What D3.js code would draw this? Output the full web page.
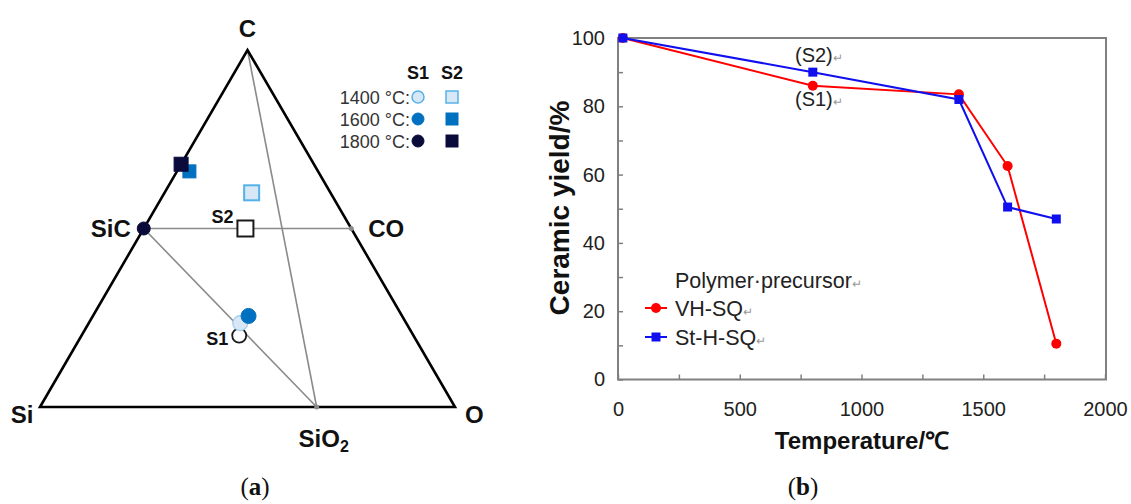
<!DOCTYPE html>
<meta charset="utf-8">
<html>
<head>
    <title>Ternary diagram and ceramic yield</title>
    <style>
        body { margin: 0; background: #fff; }
        svg { display: block; font-family: "Liberation Sans", Arial, sans-serif; }
    </style>
</head>
<body>
    <div id="container"></div>
    <script src="https://d3js.org/d3.v7.min.js"></script>
    <script>
        // ---------- panel (a): ternary Si-C-O, fractions [si, c, o] ----------
        const corners = [
            { name: "Si", comp: [1, 0, 0] },
            { name: "C", comp: [0, 1, 0] },
            { name: "O", comp: [0, 0, 1] }
        ];
        const phases = [
            { name: "SiC", comp: [0.5, 0.5, 0] },
            { name: "CO", comp: [0, 0.5, 0.5] },
            { name: "SiO2", comp: [1 / 3, 0, 2 / 3] }
        ];
        const tieLines = [["C", "SiO2"], ["SiC", "CO"], ["SiC", "SiO2"]];
        const legendTemps = ["1400 °C:", "1600 °C:", "1800 °C:"];
        // precursor compositions (open) then 1400, 1600, 1800 °C
        const s1Comp = [0.42, 0.20, 0.38];
        const s2Comp = [0.255, 0.50, 0.245];
        const s1Heated = [[0.40, 0.235, 0.365], [0.37, 0.255, 0.375], [0.50, 0.50, 0.0]];
        const s2Heated = [[0.19, 0.60, 0.21], [0.31, 0.66, 0.03], [0.32, 0.68, 0.0]];
        const tempFill = ["#d7e7f5", "#0070c0", "#0b0b3b"];
        const tempStroke = ["#55b2e8", "#0070c0", "#0b0b3b"];

        // ---------- panel (b): ceramic yield ----------
        const temps = [20, 800, 1400, 1600, 1800];
        const yieldVH = [100, 86, 83.5, 62.5, 10.5];
        const yieldSt = [100, 90, 82, 50.5, 47];
        const xTicks = [0, 500, 1000, 1500, 2000];
        const xMinor = [250, 750, 1250, 1750];
        const yTicks = [0, 20, 40, 60, 80, 100];
        const yMinor = [10, 30, 50, 70, 90];

        const W = 1131, H = 504;
        const svg = d3.select("#container").append("svg")
            .attr("width", W).attr("height", H);

        // ===== (a) =====
        const tx = d3.scaleLinear().domain([0, 1]).range([40, 455]);   // o + c/2
        const ty = d3.scaleLinear().domain([0, 1]).range([407, 50]);   // c
        const px = c => tx(c[2] + c[1] / 2);
        const py = c => ty(c[1]);
        const byName = {};
        corners.concat(phases).forEach(d => byName[d.name] = d.comp);

        const ga = svg.append("g");
        ga.append("g").selectAll("line").data(tieLines).join("line")
            .attr("x1", d => px(byName[d[0]])).attr("y1", d => py(byName[d[0]]))
            .attr("x2", d => px(byName[d[1]])).attr("y2", d => py(byName[d[1]]))
            .attr("stroke", "#8a8a8a").attr("stroke-width", 1.6);

        ga.append("path")
            .attr("d", d3.line().x(d => px(d.comp)).y(d => py(d.comp))(corners) + "Z")
            .attr("fill", "none").attr("stroke", "#000").attr("stroke-width", 2.6)
            .attr("stroke-linejoin", "miter");

        // small gray dots at phase points
        ga.append("g").selectAll("circle").data(phases.slice(1)).join("circle")
            .attr("cx", d => px(d.comp)).attr("cy", d => py(d.comp)).attr("r", 2.5)
            .attr("fill", "#8a8a8a");

        // corner / phase labels
        function label(g, text, x, y, anchor, size) {
            const t = g.append("text").attr("x", x).attr("y", y)
                .attr("text-anchor", anchor).attr("font-weight", "bold")
                .attr("font-size", (size || 24) + "px").attr("fill", "#111").text(text);
            return t;
        }
        label(ga, "C", px(byName.C), py(byName.C) - 13, "middle");
        label(ga, "Si", px(byName.Si) - 18, py(byName.Si) + 16, "middle");
        label(ga, "O", px(byName.O) + 10, py(byName.O) + 16, "start");
        label(ga, "SiC", px(byName.SiC) - 13, py(byName.SiC) + 8, "end");
        label(ga, "CO", px(byName.CO) + 17, py(byName.CO) + 8, "start");
        const sio2 = label(ga, "SiO", px(byName.SiO2) + 7, py(byName.SiO2) + 40, "middle");
        sio2.append("tspan").attr("font-size", "16px").attr("dy", 5).text("2");

        // markers
        const sq = (g, c, s, fill, stroke, sw) => g.append("rect")
            .attr("x", px(c) - s / 2).attr("y", py(c) - s / 2)
            .attr("width", s).attr("height", s)
            .attr("fill", fill).attr("stroke", stroke).attr("stroke-width", sw);
        const ci = (g, c, r, fill, stroke, sw) => g.append("circle")
            .attr("cx", px(c)).attr("cy", py(c)).attr("r", r)
            .attr("fill", fill).attr("stroke", stroke).attr("stroke-width", sw);

        const gm = ga.append("g");
        sq(gm, s2Heated[1], 13, tempFill[1], tempStroke[1], 1);
        sq(gm, s2Heated[2], 14, tempFill[2], tempStroke[2], 1);
        sq(gm, s2Heated[0], 15, tempFill[0], tempStroke[0], 2);
        sq(gm, s2Comp, 16, "#fff", "#1a1a1a", 2);
        ci(gm, s1Comp, 7, "#fff", "#1a1a1a", 1.8);
        ci(gm, s1Heated[0], 7.5, tempFill[0], "#9ccbec", 1.2);
        ci(gm, s1Heated[1], 7.5, tempFill[1], tempStroke[1], 1);
        ci(gm, s1Heated[2], 6.5, tempFill[2], tempStroke[2], 1);

        label(ga, "S2", px(s2Comp) - 12, py(s2Comp) - 6, "end", 18);
        label(ga, "S1", px(s1Comp) - 11, py(s1Comp) + 9, "end", 18);

        // legend (a)
        const lg = ga.append("g");
        label(lg, "S1", 418, 79, "middle", 18);
        label(lg, "S2", 452, 79, "middle", 18);
        legendTemps.forEach((t, i) => {
            const y = 97 + i * 22;
            lg.append("text").attr("x", 410).attr("y", y + 6.5).attr("text-anchor", "end")
                .attr("font-size", "18px").attr("fill", "#333").text(t);
            lg.append("circle").attr("cx", 418).attr("cy", y).attr("r", 6)
                .attr("fill", tempFill[i]).attr("stroke", tempStroke[i]).attr("stroke-width", i === 0 ? 1.5 : 1);
            lg.append("rect").attr("x", 446).attr("y", y - 6).attr("width", 12).attr("height", 12)
                .attr("fill", tempFill[i]).attr("stroke", tempStroke[i]).attr("stroke-width", i === 0 ? 1.5 : 1);
        });

        // ===== (b) =====
        const x = d3.scaleLinear().domain([0, 2000]).range([618, 1105]);
        const y = d3.scaleLinear().domain([0, 100]).range([379.5, 38]);
        const gb = svg.append("g");
        const axisColor = "#808080";

        gb.append("rect").attr("x", 618).attr("y", 38)
            .attr("width", 1106 - 618).attr("height", 379.5 - 38)
            .attr("fill", "none").attr("stroke", axisColor).attr("stroke-width", 2);

        const yAxis = d3.axisLeft(y).tickValues(yTicks.concat(yMinor)).tickSize(-5)
            .tickFormat(d => yTicks.includes(d) ? d : "");
        const ya = gb.append("g").attr("transform", "translate(618,0)").call(yAxis);
        const xAxis = d3.axisBottom(x).tickValues(xTicks.concat(xMinor)).tickSize(-5)
            .tickFormat(d => xTicks.includes(d) ? d : "");
        const xa = gb.append("g").attr("transform", "translate(0,379.5)").call(xAxis);
        [ya, xa].forEach(a => {
            a.select(".domain").remove();
            a.selectAll(".tick line").attr("stroke", axisColor).attr("stroke-width", 1.5);
            a.selectAll(".tick text").attr("font-size", "20px").attr("fill", "#222")
                .attr("font-family", "'Liberation Sans', Arial, sans-serif");
        });
        ya.selectAll(".tick text").attr("x", -13);
        xa.selectAll(".tick text").attr("y", 22);

        gb.append("text").attr("x", 862).attr("y", 449).attr("text-anchor", "middle")
            .attr("font-weight", "bold").attr("font-size", "24px").attr("fill", "#111")
            .text("Temperature/℃");
        gb.append("text").attr("transform", "translate(569,208) rotate(-90)")
            .attr("text-anchor", "middle").attr("font-weight", "bold")
            .attr("font-size", "28px").attr("fill", "#111").text("Ceramic yield/%");

        const series = [
            { name: "VH-SQ", vals: yieldVH, color: "#ff0000", shape: "circle" },
            { name: "St-H-SQ", vals: yieldSt, color: "#1010ee", shape: "square" }
        ];
        const line = d3.line().x(d => x(d[0])).y(d => y(d[1]));
        function marker(g, shape, cx, cy, color) {
            if (shape === "circle") {
                g.append("circle").attr("cx", cx).attr("cy", cy).attr("r", 5).attr("fill", color);
            } else {
                g.append("rect").attr("x", cx - 4.5).attr("y", cy - 4.5)
                    .attr("width", 9).attr("height", 9).attr("fill", color);
            }
        }
        series.forEach(s => {
            const pts = temps.map((t, i) => [t, s.vals[i]]);
            gb.append("path").attr("d", line(pts)).attr("fill", "none")
                .attr("stroke", s.color).attr("stroke-width", 2);
            pts.forEach(p => marker(gb, s.shape, x(p[0]), y(p[1]), s.color));
        });

        const ret = "↵";
        function retText(g, xx, yy, txt, size) {
            const t = g.append("text").attr("x", xx).attr("y", yy)
                .attr("font-size", size + "px").attr("fill", "#222").text(txt);
            t.append("tspan").attr("font-size", "12px").attr("fill", "#999").text(ret);
            return t;
        }
        retText(gb, 795, 62, "(S2)", 20);
        retText(gb, 795, 106, "(S1)", 20);

        // legend (b)
        retText(gb, 675, 288, "Polymer·precursor", 21.5);
        series.forEach((s, i) => {
            const yy = 308 + i * 29;
            gb.append("line").attr("x1", 645).attr("x2", 667).attr("y1", yy).attr("y2", yy)
                .attr("stroke", s.color).attr("stroke-width", 2);
            marker(gb, s.shape, 656, yy, s.color);
            retText(gb, 675, yy + 7.5, s.name, 21.5);
        });

        // captions
        const cap = (xx, letter) => {
            const t = svg.append("text").attr("x", xx).attr("y", 495).attr("text-anchor", "middle")
                .attr("font-family", "'Liberation Serif', 'DejaVu Serif', serif")
                .attr("font-size", "25px").attr("fill", "#111");
            t.append("tspan").text("(");
            t.append("tspan").attr("font-weight", "bold").text(letter);
            t.append("tspan").text(")");
        };
        cap(255, "a");
        cap(803, "b");
    </script>
</body>
</html>
